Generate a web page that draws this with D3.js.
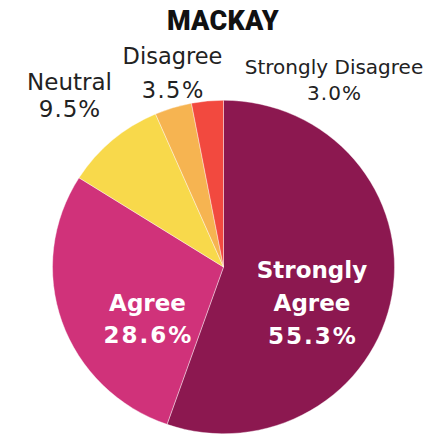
<!DOCTYPE html>
<html>
<head>
<meta charset="utf-8">
<script src="https://cdn.jsdelivr.net/npm/d3@7"></script>
<style>
  html, body { margin: 0; padding: 0; background: #fff; }
  svg { display: block; }
</style>
</head>
<body>
<svg id="chart" width="446" height="437"></svg>
<script>
const title = "MACKAY";
const categories = ["Strongly Agree", "Agree", "Neutral", "Disagree", "Strongly Disagree"];
const values = [55.3, 28.6, 9.5, 3.5, 3.0];
const colors = ["#8c1850", "#d0327a", "#f8d94b", "#f6b451", "#f2493f"];

const svg = d3.select("#chart");
const cx = 223.5, cy = 267, radius = 171, yScale = 0.975;

const color = d3.scaleOrdinal().domain(categories).range(colors);
const pie = d3.pie().sort(null).value(d => d.value);
const arc = d3.arc().innerRadius(0).outerRadius(radius);
const data = categories.map((c, i) => ({ cat: c, value: values[i] }));
const arcs = pie(data);

const g = svg.append("g").attr("transform", `translate(${cx},${cy}) scale(1,${yScale})`);
g.selectAll("path").data(arcs).join("path")
  .attr("d", arc)
  .attr("fill", d => color(d.data.cat))
  .attr("stroke", "#ffffff")
  .attr("stroke-opacity", 0.5)
  .attr("stroke-width", 0.8);

svg.append("text")
  .attr("x", 223).attr("y", 30)
  .attr("text-anchor", "middle")
  .attr("font-family", "Roboto, 'DejaVu Sans', sans-serif")
  .attr("font-weight", 900)
  .attr("font-size", 27)
  .attr("letter-spacing", 0.3)
  .attr("fill", "#111")
  .text(title);

const fmt = v => v.toFixed(1) + "%";

// label layout (positions only)
const labelPos = {
  "Strongly Agree":    { x: 312, y: 278, size: 23, bold: true,  fill: "#fff", lh: 33, ls: 2, lines: ["Strongly", "Agree"] },
  "Agree":             { x: 147.5, y: 311, size: 23, bold: true, fill: "#fff", lh: 32, ls: 2, lines: ["Agree"] },
  "Neutral":           { x: 69.5, y: 89.5, size: 23, bold: false, fill: "#222", lh: 27, ls: 1, lines: ["Neutral"] },
  "Disagree":          { x: 172.5, y: 63.5, size: 22.5, bold: false, fill: "#222", lh: 34, ls: 1.5, lines: ["Disagree"] },
  "Strongly Disagree": { x: 334, y: 74, size: 20, bold: false, fill: "#222", lh: 26, ls: 1, lines: ["Strongly Disagree"] }
};

data.forEach(d => {
  const p = labelPos[d.cat];
  const t = svg.append("text")
    .attr("text-anchor", "middle")
    .attr("font-family", "'DejaVu Sans', Verdana, sans-serif")
    .attr("font-weight", p.bold ? "bold" : "normal")
    .attr("font-size", p.size)
    .attr("fill", p.fill);
  p.lines.forEach((ln, i) => {
    t.append("tspan").attr("x", p.x).attr("y", p.y + i * p.lh).text(ln);
  });
  t.append("tspan")
    .attr("x", p.x + p.ls / 2)
    .attr("y", p.y + p.lines.length * p.lh)
    .attr("letter-spacing", p.ls)
    .text(fmt(d.value));
});
</script>
</body>
</html>
